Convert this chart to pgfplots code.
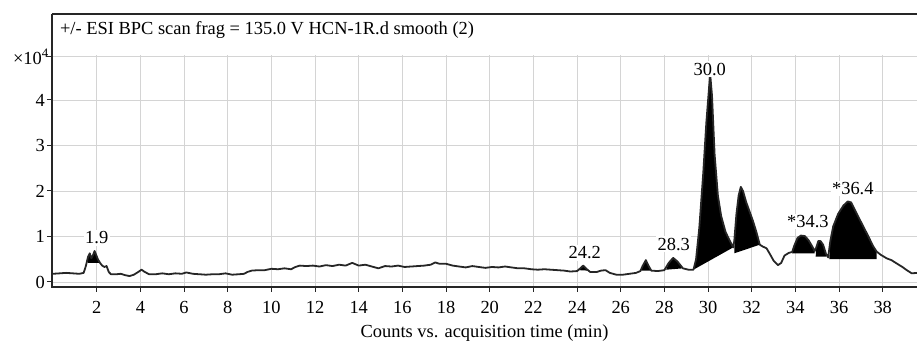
\documentclass[border=0pt]{standalone}
\usepackage{fontspec}
\setmainfont{Liberation Serif}
\usepackage{pgfplots}
\pgfplotsset{compat=1.18}
\definecolor{trace}{HTML}{262626}
\definecolor{gridc}{HTML}{D4D4D4}
\begin{document}
\begin{tikzpicture}
\begin{axis}[
  scale only axis, width=865bp, height=273bp,
  xmin=-0.05, xmax=39.57, ymin=-0.11, ymax=5.89,
  clip=false,
  axis line style={draw=none},
  xtick pos=bottom, ytick pos=left,
  xtick={2,4,...,38}, ytick={0,1,2,3,4},
  extra y ticks={4.95}, extra y tick labels={×10\textsuperscript{4}},
  extra y tick style={grid=major, yticklabel style={xshift=4bp}},
  grid=major,
  major grid style={draw=gridc, line width=0.9bp},
  tick align=outside, major tick length=5bp,
  tick style={draw=trace, line width=1bp},
  /pgf/number format/assume math mode=true,
  tick label style={font=\fontsize{18.5}{22}\selectfont},
  yticklabel style={inner sep=2bp},
  xticklabel style={inner sep=3bp, yshift=-6bp},
  xlabel={Counts vs. acquisition time (min)},
  xlabel style={font=\fontsize{18.5}{22}\selectfont, inner sep=0pt, anchor=center, at={(axis description cs:0.5,0)}, yshift=-46bp},
]
% white title area
\fill[white] (axis cs:-0.05,4.985) rectangle (axis cs:39.57,5.89);
\node[anchor=west, font=\fontsize{18.5}{22}\selectfont, inner sep=0pt] at (axis cs:0.31,5.54) {+/- ESI BPC scan frag = 135.0 V HCN-1R.d smooth (2)};

% filled peaks
\addplot[fill=black, draw=none] coordinates {(1.58,0.42)(1.62,0.56)(1.68,0.64)(1.75,0.54)(1.82,0.6)(1.9,0.7)(1.97,0.61)(2.05,0.5)(2.1,0.42)} -- cycle;
\addplot[fill=black, draw=none] coordinates {(24.08,0.26)(24.18,0.32)(24.28,0.37)(24.4,0.3)(24.5,0.25)} -- cycle;
\addplot[fill=black, draw=none] coordinates {(26.95,0.25)(27.02,0.36)(27.15,0.49)(27.28,0.36)(27.36,0.25)} -- cycle;
\addplot[fill=black, draw=none] coordinates {(28.08,0.27)(28.2,0.42)(28.4,0.54)(28.6,0.46)(28.85,0.3)} -- cycle;
\addplot[fill=black, draw=none] coordinates {(29.33,0.27)(29.45,0.5)(29.6,1.2)(29.78,2.4)(29.92,3.5)(30.05,4.3)(30.1,4.56)(30.18,4.1)(30.3,2.8)(30.45,1.9)(30.6,1.45)(30.8,1.1)(31.0,0.9)(31.15,0.76)} -- cycle;
\addplot[fill=black, draw=none] coordinates {(31.2,0.63)(31.22,0.95)(31.3,1.5)(31.4,1.9)(31.5,2.09)(31.6,2.0)(31.75,1.75)(31.9,1.55)(32.05,1.35)(32.2,1.12)(32.37,0.82)} -- cycle;
\addplot[fill=black, draw=none] coordinates {(33.85,0.63)(33.95,0.8)(34.1,0.97)(34.25,1.02)(34.43,1.01)(34.6,0.92)(34.75,0.8)(34.88,0.68)(34.88,0.63)} -- cycle;
\addplot[fill=black, draw=none] coordinates {(34.93,0.56)(34.95,0.75)(35.05,0.9)(35.15,0.9)(35.27,0.82)(35.4,0.62)(35.42,0.56)} -- cycle;
\addplot[fill=black, draw=none] coordinates {(35.55,0.5)(35.6,0.9)(35.73,1.22)(35.96,1.5)(36.2,1.68)(36.4,1.77)(36.55,1.75)(36.73,1.58)(36.96,1.36)(37.27,1.07)(37.57,0.78)(37.72,0.67)(37.72,0.5)} -- cycle;

% trace
\addplot[trace, line width=1.8bp, line join=round] coordinates {
(0,0.18)(0.3,0.19)(0.6,0.2)(0.9,0.19)(1.2,0.18)(1.4,0.2)
(1.5,0.35)(1.6,0.55)(1.68,0.63)(1.75,0.52)(1.82,0.58)(1.9,0.68)(1.97,0.6)(2.05,0.5)(2.15,0.42)(2.25,0.36)(2.35,0.33)(2.45,0.35)(2.55,0.22)(2.65,0.17)
(2.9,0.17)(3.1,0.18)(3.3,0.15)(3.5,0.13)(3.7,0.16)(3.9,0.22)(4.05,0.27)(4.2,0.22)(4.4,0.17)(4.7,0.17)(5.0,0.19)(5.3,0.17)(5.6,0.19)(5.9,0.18)(6.1,0.21)(6.4,0.18)(6.7,0.17)(7.0,0.16)(7.3,0.17)(7.6,0.17)(7.9,0.19)(8.2,0.16)(8.5,0.17)(8.75,0.18)(8.9,0.22)(9.1,0.25)(9.4,0.26)(9.7,0.26)(10.0,0.29)(10.3,0.28)(10.6,0.3)(10.9,0.28)(11.1,0.33)(11.3,0.36)(11.6,0.35)(11.9,0.36)(12.2,0.34)(12.5,0.37)(12.8,0.35)(13.1,0.38)(13.4,0.36)(13.7,0.42)(14.0,0.36)(14.3,0.38)(14.6,0.34)(14.9,0.3)(15.2,0.35)(15.5,0.34)(15.8,0.36)(16.1,0.33)(16.4,0.34)(16.7,0.35)(17.0,0.36)(17.3,0.38)(17.5,0.43)(17.7,0.4)(18.0,0.4)(18.3,0.36)(18.6,0.34)(18.9,0.32)(19.2,0.35)(19.5,0.33)(19.8,0.31)(20.1,0.33)(20.4,0.32)(20.7,0.34)(21.0,0.32)(21.3,0.3)(21.6,0.3)(21.9,0.28)(22.2,0.27)(22.5,0.28)(22.8,0.27)(23.1,0.26)(23.4,0.25)(23.7,0.23)(24.0,0.24)(24.15,0.3)(24.28,0.36)(24.45,0.28)(24.6,0.22)(24.9,0.22)(25.1,0.25)(25.3,0.26)(25.5,0.2)(25.8,0.16)(26.1,0.16)(26.4,0.18)(26.7,0.2)(26.9,0.24)(27.0,0.35)(27.15,0.48)(27.28,0.35)(27.4,0.25)(27.7,0.24)(28.0,0.26)(28.2,0.42)(28.4,0.53)(28.6,0.45)(28.85,0.3)(29.1,0.27)(29.33,0.27)
(29.45,0.5)(29.6,1.2)(29.78,2.4)(29.92,3.5)(30.05,4.3)(30.1,4.55)(30.18,4.1)(30.3,2.8)(30.45,1.9)(30.6,1.45)(30.8,1.1)(31.0,0.9)(31.15,0.76)
(31.2,0.9)(31.3,1.5)(31.4,1.9)(31.5,2.09)(31.6,2.0)(31.75,1.75)(31.9,1.55)(32.05,1.35)(32.2,1.12)(32.37,0.82)(32.5,0.78)(32.68,0.74)(32.85,0.6)(33.0,0.47)(33.2,0.37)(33.35,0.42)(33.5,0.58)(33.7,0.64)(33.85,0.66)
(33.95,0.8)(34.1,0.97)(34.25,1.02)(34.43,1.01)(34.6,0.92)(34.75,0.8)(34.88,0.68)(34.95,0.75)(35.05,0.9)(35.15,0.9)(35.27,0.82)(35.4,0.62)(35.5,0.54)
(35.6,0.9)(35.73,1.22)(35.96,1.5)(36.2,1.68)(36.4,1.77)(36.55,1.75)(36.73,1.58)(36.96,1.36)(37.27,1.07)(37.57,0.78)(37.72,0.67)(37.9,0.6)(38.18,0.52)(38.4,0.48)(38.63,0.41)(38.9,0.33)(39.1,0.26)(39.33,0.19)(39.57,0.2)
};

% peak labels
\begin{scope}[every node/.style={fill=white, inner sep=1.5bp, font=\fontsize{18.5}{22}\selectfont}]
\node at (axis cs:2.0,0.97) {1.9};
\node at (axis cs:24.35,0.64) {24.2};
\node at (axis cs:28.43,0.83) {28.3};
\node at (axis cs:30.08,4.68) {30.0};
\node at (axis cs:34.57,1.33) {*34.3};
\node at (axis cs:36.63,2.06) {*36.4};
\end{scope}

% frame
\draw[trace, line width=2.6bp] (rel axis cs:0,1) -- (rel axis cs:0,0) -- (rel axis cs:1,0);
\draw[trace, line width=2bp] (rel axis cs:0,1) -- (rel axis cs:1,1);
\end{axis}
\pgfresetboundingbox
\path ([xshift=-52bp,yshift=-56bp]current axis.south west) rectangle ([yshift=14bp]current axis.north east);
\end{tikzpicture}
\end{document}
